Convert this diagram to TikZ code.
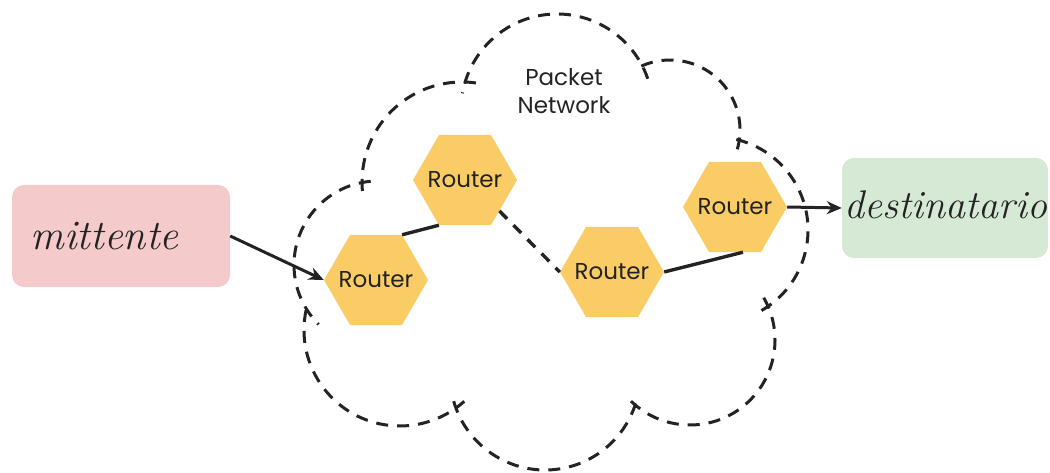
\documentclass[tikz,border=0pt]{standalone}
\usepackage{fontspec}
\newfontfamily\pop{Poppins}
\usetikzlibrary{shapes.geometric,arrows.meta}
\definecolor{hexfill}{RGB}{250,204,102}
\definecolor{pinkbox}{RGB}{245,202,202}
\definecolor{greenbox}{RGB}{214,233,212}
\definecolor{ink}{RGB}{35,35,35}
\newcommand{\rtext}{\makebox[0pt]{Router}}
\tikzset{
  router/.style={regular polygon, regular polygon sides=6, minimum size=104pt, inner sep=0pt, fill=hexfill, draw=none, font=\pop\fontsize{23}{25}\selectfont, text=ink},
  cloud/.style={draw=ink, line width=3pt, dash pattern=on 12pt off 9pt},
  link/.style={draw=ink, line width=3.4pt},
  dlink/.style={draw=ink, line width=3.4pt, dash pattern=on 11pt off 9pt},
  arr/.style={draw=ink, line width=3pt, -{Stealth[length=15pt,width=13pt]}},
  endbox/.style={rounded corners=12pt, draw=none},
  hand/.style={font=\itshape\fontsize{42}{44}\selectfont, text=ink}
}
\begin{document}
\begin{tikzpicture}[x=1pt,y=1pt]
\useasboundingbox (0,0) rectangle (1050,-473);
% cloud
\draw[cloud] ([shift={(462,-182)}]82:100) arc[start angle=82,end angle=186,radius=100];
\draw[cloud] ([shift={(557,-110)}]19:96) arc[start angle=19,end angle=170,radius=96];
\draw[cloud] ([shift={(670,-130)}]-16:70) arc[start angle=-16,end angle=118,radius=70];
\draw[cloud] ([shift={(715,-230)}]-60:93) arc[start angle=-60,end angle=79,radius=93];
\draw[cloud] ([shift={(690,-340)}]-134:85) arc[start angle=-134,end angle=30,radius=85];
\draw[cloud] ([shift={(545,-375)}]-164:95) arc[start angle=-164,end angle=-17,radius=95];
\draw[cloud] ([shift={(400,-330)}]168:96) arc[start angle=168,end angle=312,radius=96];
\draw[cloud] ([shift={(378,-265)}]95:84) arc[start angle=95,end angle=225,radius=84];
\node[font=\pop\fontsize{23}{28}\selectfont, text=ink, align=center] (pn) at (564,-91) {Packet\\Network};
% boxes
\node[endbox, fill=pinkbox, minimum width=218pt, minimum height=102pt] (m) at (121,-236) {};
\node[hand, anchor=west] (mt) at (27,-236) {mittente};
\node[endbox, fill=greenbox, minimum width=206pt, minimum height=100pt] (d) at (945,-208) {};
\node[hand, font=\itshape\fontsize{40}{42}\selectfont] (dt) at (946,-205) {destinatario};
% routers
\node[router] (r1) at (465,-180) {\rtext};
\node[router] (r2) at (376,-280) {\rtext};
\node[router] (r3) at (612,-272) {\rtext};
\node[router] (r4) at (735,-207) {\rtext};
% links
\draw[link] (r2.60) -- (r1.240);
\draw[dlink] (r1.-42) -- (r3.west);
\draw[link] (r3.east) -- (r4.-80);
\draw[arr] (m.east) -- (r2.west);
\draw[arr] (r4.east) -- (d.west);
\end{tikzpicture}
\end{document}
